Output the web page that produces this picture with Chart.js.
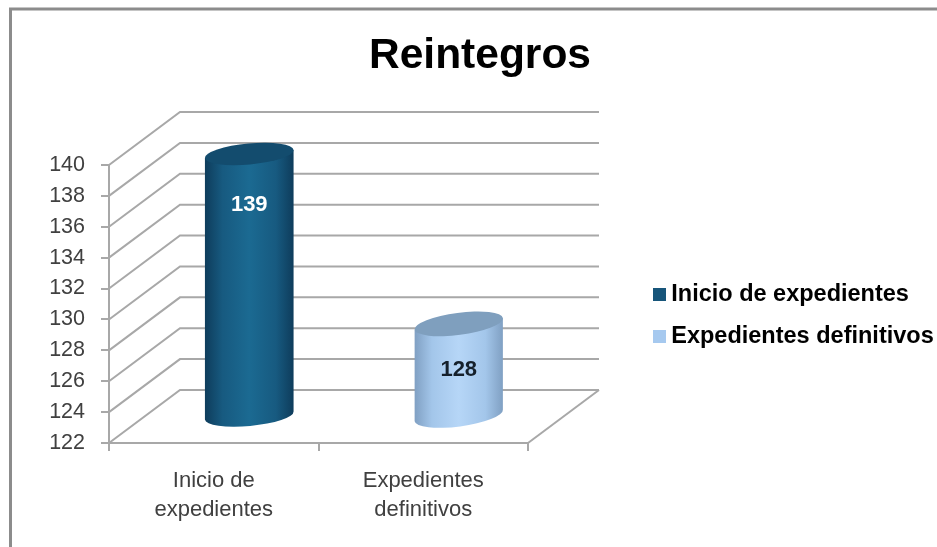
<!DOCTYPE html>
<html>
<head>
<meta charset="utf-8">
<style>html,body{margin:0;padding:0;background:#fff}canvas{display:block}</style>
<script src="https://cdn.jsdelivr.net/npm/chart.js@4"></script>
</head>
<body>
<canvas id="c" width="937" height="547"></canvas>
<script>
const categories = ['Inicio de expedientes', 'Expedientes definitivos'];
const tickLines = [['Inicio de', 'expedientes'], ['Expedientes', 'definitivos']];
const values = [139, 128];
const colors = ['#17557a', '#a6c9ef'];
const edgeColors = ['#0e3c5b', '#7f9fc2'];
const shoulderColors = ['#175a80', '#a3c6ea'];
const midColors = ['#1b6a92', '#b6d6f7'];
const topColors = ['#134c6e', '#7f9fbe'];
const labelColors = ['#ffffff', '#15202b'];
const yMin = 122, yMax = 140, yStep = 2;
const titleText = 'Reintegros';

const DX = 71, DY = 53;          // depth of the 3D box
const TILT = [-5.2, -7.5];       // ellipse tilt per bar, degrees
const RY = [10.5, 11];
const LABEL_DROP = [51, null];   // label distance below bar top (null = centred)

function swatch(col) {
  const s = document.createElement('canvas');
  s.width = 13; s.height = 13;
  const g = s.getContext('2d');
  g.fillStyle = col; g.fillRect(0, 0, 13, 13);
  return s;
}

const box3d = {
  id: 'box3d',
  beforeLayout(chart) {
    const l = chart.legend;
    if (l && !l._wrapped) {
      const f = l.fit;
      l.fit = function () { f.call(this); this.width = 409; };
      l._wrapped = true;
    }
  },
  afterLayout(chart) {
    const l = chart.legend;
    l.left = 640; l.right = 937; l.top = 264; l.bottom = 547;
  },
  beforeDraw(chart) {
    const c = chart.ctx;
    c.save();
    c.fillStyle = '#fff';
    c.fillRect(0, 0, chart.width, chart.height);
    c.strokeStyle = '#8c8c8c';
    c.lineWidth = 3;
    c.beginPath();
    c.moveTo(10.5, 547); c.lineTo(10.5, 9); c.lineTo(937, 9);
    c.stroke();
    c.restore();
  },
  beforeDatasetsDraw(chart) {
    const c = chart.ctx, a = chart.chartArea, y = chart.scales.y;
    c.save();
    c.strokeStyle = '#a8a8a8';
    c.lineWidth = 2;
    y.ticks.forEach(t => {
      const p = y.getPixelForValue(t.value);
      c.beginPath();
      c.moveTo(a.left, p);
      c.lineTo(a.left + DX, p - DY);
      c.lineTo(a.right + DX, p - DY);
      c.stroke();
    });
    c.beginPath();
    c.moveTo(a.right, a.bottom);
    c.lineTo(a.right + DX, a.bottom - DY);
    c.stroke();
    c.restore();
  },
  beforeDatasetDraw(chart, args) {
    const c = chart.ctx;
    chart.getDatasetMeta(args.index).data.forEach((el, i) => {
      const cx = el.x + DX / 2, rx = el.width / 2;
      const top = el.y - DY / 2, base = el.base - DY / 2;
      const tilt = TILT[i] * Math.PI / 180, ry = RY[i];
      const ex = Math.cos(tilt) * rx, ey = Math.sin(tilt) * rx;
      c.save();
      const g = c.createLinearGradient(cx - rx, 0, cx + rx, 0);
      g.addColorStop(0, edgeColors[i]);
      g.addColorStop(0.2, shoulderColors[i]);
      g.addColorStop(0.5, midColors[i]);
      g.addColorStop(0.8, shoulderColors[i]);
      g.addColorStop(1, edgeColors[i]);
      c.fillStyle = g;
      c.beginPath();
      c.moveTo(cx - ex, top - ey);
      c.lineTo(cx - ex, base - ey);
      c.ellipse(cx, base, rx, ry, tilt, Math.PI, 0, true);
      c.lineTo(cx + ex, top + ey);
      c.closePath();
      c.fill();
      c.fillStyle = topColors[i];
      c.beginPath();
      c.ellipse(cx, top, rx, ry, tilt, 0, Math.PI * 2);
      c.fill();
      c.fillStyle = labelColors[i];
      c.font = 'bold 22px "Liberation Sans", Arial, sans-serif';
      c.textAlign = 'center';
      c.textBaseline = 'middle';
      const ly = LABEL_DROP[i] === null ? (top + base) / 2 : top + LABEL_DROP[i];
      c.fillText(String(values[i]), cx, ly);
      c.restore();
    });
    return false;
  }
};

new Chart(document.getElementById('c'), {
  type: 'bar',
  data: {
    labels: categories,
    datasets: [{ data: values, backgroundColor: colors, barThickness: 89, base: yMin }]
  },
  plugins: [box3d],
  options: {
    responsive: false,
    animation: false,
    layout: { padding: { left: 23, right: 0, top: 0, bottom: 0 } },
    plugins: {
      tooltip: { enabled: false },
      title: {
        display: true, text: titleText, color: '#000',
        font: { family: '"Liberation Sans", Arial, sans-serif', size: 42.5, weight: 'bold', lineHeight: 1.2 },
        padding: { top: 31, bottom: 83 }
      },
      legend: {
        position: 'right', align: 'start',
        labels: {
          color: '#111',
          font: { family: '"Liberation Sans", Arial, sans-serif', size: 23.5, weight: 'bold' },
          padding: 18.5, usePointStyle: true, pointStyleWidth: 1,
          generateLabels: () => categories.map((t, i) => ({
            text: t, fillStyle: colors[i], strokeStyle: colors[i], lineWidth: 0,
            pointStyle: swatch(colors[i]), hidden: false, index: i
          }))
        }
      }
    },
    scales: {
      x: {
        afterFit(s) { s.height = 104; },
        grid: { drawOnChartArea: false, drawTicks: true, tickLength: 8, color: '#a8a8a8', lineWidth: 2 },
        border: { color: '#a8a8a8', width: 2 },
        ticks: {
          maxRotation: 0, autoSkip: false, padding: 16, color: '#404040',
          font: { family: '"Liberation Sans", Arial, sans-serif', size: 22, lineHeight: 1.3 },
          callback: (v, i) => tickLines[i]
        }
      },
      y: {
        min: yMin, max: yMax,
        afterFit(s) { s.width = 86; },
        grid: { drawOnChartArea: false, drawTicks: true, tickLength: 8, color: '#a8a8a8', lineWidth: 2 },
        border: { color: '#a8a8a8', width: 2 },
        ticks: {
          stepSize: yStep, autoSkip: false, padding: 16, color: '#404040',
          font: { family: '"Liberation Sans", Arial, sans-serif', size: 21.5 }
        }
      }
    }
  }
});
</script>
</body>
</html>
